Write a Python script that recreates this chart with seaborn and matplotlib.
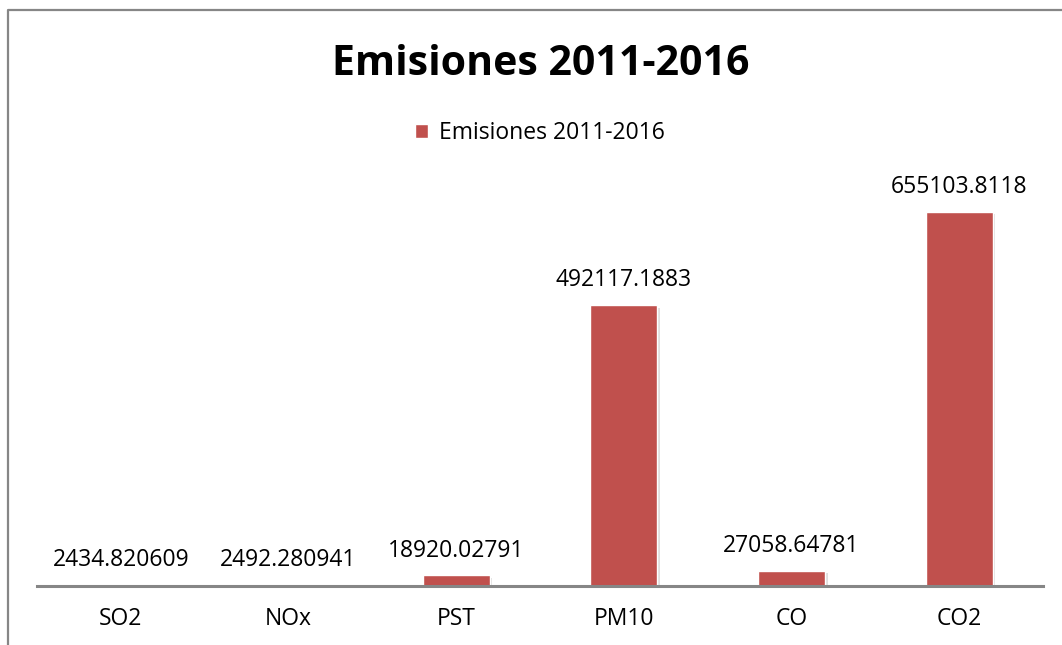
import numpy as np
import pandas as pd
import matplotlib
matplotlib.use("Agg")
import matplotlib.pyplot as plt
import matplotlib.patheffects as pe
from matplotlib.lines import Line2D
import seaborn as sns

# datos del grafico
contaminantes = ["SO2", "NOx", "PST", "PM10", "CO", "CO2"]
emisiones = [2434.820609, 2492.280941, 18920.02791, 492117.1883, 27058.64781, 655103.8118]
serie = "Emisiones 2011-2016"
titulo = "Emisiones 2011-2016"

df = pd.DataFrame({"contaminante": contaminantes, "emision": emisiones})

sns.set_style("white")
plt.rcParams["font.family"] = ["Open Sans", "DejaVu Sans"]

W, H = 1062, 645
fig = plt.figure(figsize=(W / 100, H / 100), dpi=100)
ax = fig.add_axes([37 / W, (H - 586) / H, (1043 - 37) / W, (586 - 186) / H])

rojo = "#C0504D"
gris = "#868686"

sns.barplot(data=df, x="contaminante", y="emision", color=rojo, width=0.4,
            saturation=1, label=serie, ax=ax)

# leyenda (antes de la sombra para que el cuadrito no la copie)
ax.legend(loc="center", bbox_to_anchor=(540 / W, 1 - 133 / H), bbox_transform=fig.transFigure,
          frameon=False, fontsize=16.5, handlelength=0.57, handleheight=0.57,
          handletextpad=0.45, borderpad=0, labelcolor="black")

for p in ax.containers[0]:
    p.set_path_effects([pe.SimplePatchShadow(offset=(2, -2), shadow_rgbFace="gray", alpha=0.25),
                        pe.Normal()])

etiquetas = [f"{v:.10g}" for v in emisiones]
ax.bar_label(ax.containers[0], labels=etiquetas, padding=9, fontsize=16.5, color="black")

ax.set_ylim(0, 700000)
ax.set_xlim(-0.5, len(contaminantes) - 0.5)
ax.set_xlabel("")
ax.set_ylabel("")
ax.set_yticks([])
for s in ["left", "top", "right"]:
    ax.spines[s].set_visible(False)
ax.spines["bottom"].set_color(gris)
ax.spines["bottom"].set_linewidth(2.2)
ax.tick_params(axis="x", length=0, pad=15, labelsize=16.5, labelcolor="black")

# titulo
fig.text(541 / W, 1 - 75 / H, titulo, ha="center", va="baseline",
         fontsize=29.5, fontweight="bold", color="black")

# borde del area del grafico
fig.add_artist(Line2D([8 / W, 8 / W, 1.0], [0.0, 1 - 10 / H, 1 - 10 / H],
                      transform=fig.transFigure, color=gris, lw=1.6))

fig.savefig("out.png", dpi=100)
